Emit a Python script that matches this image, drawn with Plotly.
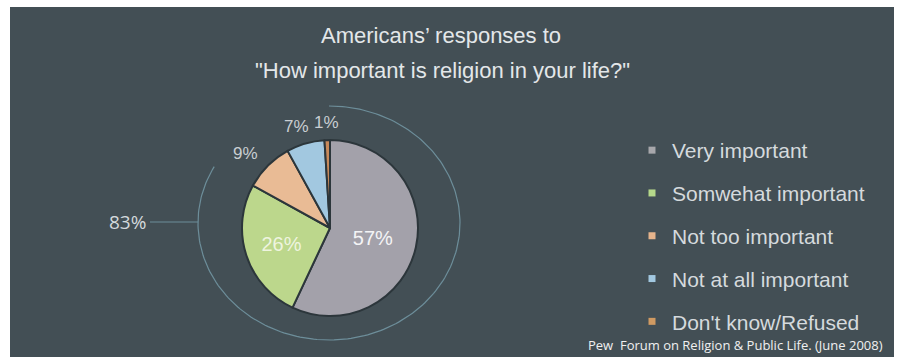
import math
import plotly.graph_objects as go

# ---- data ----
labels = ["Very important", "Somwehat important", "Not too important",
          "Not at all important", "Don't know/Refused"]
values = [57, 26, 9, 7, 1]
colors = ["#a3a1aa", "#bcd78c", "#e9bb95", "#a2c8e0", "#c8895a"]
legend_colors = ["#a7a7ab", "#b5d88a", "#e6b48c", "#a2c8e0", "#d09a62"]
inside = [True, True, False, False, False]
title_lines = ["Americans\u2019 responses to", "\"How important is religion in your life?\""]
source_text = "Pew  Forum on Religion & Public Life. (June 2008)"

W, H = 897, 357
BG = "#434f55"

fig = go.Figure()

# pie
pcx, pcy, pr = 330, 228, 88
fig.add_trace(go.Pie(
    labels=labels, values=values, sort=False, direction="clockwise", rotation=0,
    marker=dict(colors=colors, line=dict(color="#2c363b", width=2)),
    texttemplate=[f"{v}%" if ins else "" for v, ins in zip(values, inside)],
    textposition="inside",
    insidetextfont=dict(family="Liberation Sans", size=20, color=["#f4f4f6", "#eef4df", "#fff", "#fff", "#fff"]),
    insidetextorientation="horizontal",
    showlegend=False, hoverinfo="label+percent",
    domain=dict(x=[(pcx - pr) / W, (pcx + pr) / W], y=[1 - (pcy + pr) / H, 1 - (pcy - pr) / H]),
))

annotations = []
# outside labels for small slices, placed at each slice's mid-angle
total = sum(values)
cum = 0
for v, ins in zip(values, inside):
    mid = 2 * math.pi * (cum + v / 2) / total
    cum += v
    if ins:
        continue
    rx_lab, ry_lab = 120, 106
    annotations.append(dict(x=pcx + rx_lab * math.sin(mid), y=pcy - ry_lab * math.cos(mid),
                            text=f"{v}%", showarrow=False, xanchor="center", yanchor="middle",
                            font=dict(family="Liberation Sans", size=17, color="#c9ced2")))

# arc covering the share of the first two categories
share = (values[0] + values[1]) / total
acx, acy, arx, ary = 329, 223, 131, 117
n = 200
ax_, ay_ = [], []
for k in range(n + 1):
    t = 2 * math.pi * share * k / n
    ax_.append(acx + arx * math.sin(t))
    ay_.append(acy - ary * math.cos(t))
fig.add_trace(go.Scatter(x=ax_, y=ay_, mode="lines", line=dict(color="#6d8e9a", width=1.2),
                         hoverinfo="skip", showlegend=False))
# connector to label
fig.add_trace(go.Scatter(x=[150, acx - arx], y=[acy - 1, acy - 1], mode="lines",
                         line=dict(color="#6d8e9a", width=1.2), hoverinfo="skip", showlegend=False))

# legend entries
for lab, col in zip(labels, legend_colors):
    fig.add_trace(go.Scatter(x=[None], y=[None], mode="markers", name=lab, legendgroup=lab,
                             marker=dict(symbol="square", size=7, color=col)))

annotations += [
    dict(x=441, y=35, text=title_lines[0], showarrow=False, xanchor="center", yanchor="middle",
         font=dict(family="Liberation Sans", size=22, color="#e3e7e9")),
    dict(x=442, y=70, text=title_lines[1], showarrow=False, xanchor="center", yanchor="middle",
         font=dict(family="Liberation Sans", size=22, color="#e3e7e9")),
    dict(x=148, y=222, text=f"{round(share * 100)}%", showarrow=False, xanchor="right", yanchor="middle",
         font=dict(family="Open Sans", size=19, color="#d3d9dc")),
    dict(x=885, y=345, text=source_text, showarrow=False, xanchor="right", yanchor="middle",
         font=dict(family="Open Sans", size=13, color="#f0f0f0")),
]

fig.update_layout(
    width=W, height=H, margin=dict(l=0, r=0, t=0, b=0),
    paper_bgcolor="white", plot_bgcolor="rgba(0,0,0,0)",
    xaxis=dict(range=[0, W], visible=False, fixedrange=True),
    yaxis=dict(range=[H, 0], visible=False, fixedrange=True),
    shapes=[dict(type="rect", xref="x", yref="y", x0=10, x1=894, y0=7, y1=H,
                 fillcolor=BG, line=dict(width=0), layer="below")],
    annotations=annotations,
    legend=dict(x=632 / W, y=1 - 130 / H, xanchor="left", yanchor="top",
                font=dict(family="Liberation Sans", size=21, color="#d5dadd"),
                traceorder="grouped", tracegroupgap=12.5, bgcolor="rgba(0,0,0,0)"),
    showlegend=True,
)

fig.write_html("out.html")
